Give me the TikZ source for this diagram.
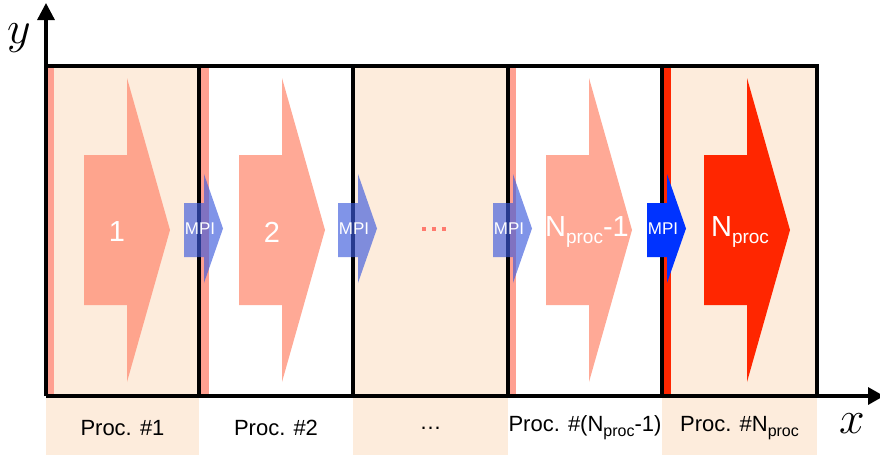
\RequirePackage{fix-cm}
\documentclass[tikz,border=0pt]{standalone}
\usepackage{fontspec}
\setmainfont{Liberation Sans}
\usetikzlibrary{arrows.meta}
\definecolor{peach}{RGB}{253,236,220}
\definecolor{salmon}{RGB}{255,160,145}
\definecolor{arrsal}{RGB}{255,140,115}
\definecolor{hotred}{RGB}{255,38,0}
\definecolor{mpiblue}{RGB}{60,90,220}
\definecolor{solidblue}{RGB}{0,51,255}
\definecolor{dotred}{RGB}{255,122,110}
\newcommand{\lowsub}[2]{\raisebox{-#1}{\fontsize{#2}{#2}\selectfont proc}}
\newcommand{\bigarrow}[2]{%
  \fill[#2] ({84+#1},155) -- ({127+#1},155) -- ({127+#1},78) -- ({170+#1},230)
    -- ({127+#1},382) -- ({127+#1},305) -- ({84+#1},305) -- cycle;}
\newcommand{\mpiarrow}[2]{%
  \fill[#2] ({#1-15},203) -- ({#1+5},203) -- ({#1+5},174) -- ({#1+24},228.5)
    -- ({#1+5},283) -- ({#1+5},257) -- ({#1-15},257) -- cycle;}
\tikzset{
  frame/.style={line width=3.3pt, line cap=rect},
  axis/.style={line width=3.3pt},
  bignum/.style={text=white, font=\fontsize{29}{29}\selectfont, inner sep=0pt},
  mpitxt/.style={text=white, font=\fontsize{17}{17}\selectfont, inner sep=0pt},
  proclbl/.style={text=black, font=\fontsize{22}{22}\selectfont, inner sep=0pt},
  axlbl/.style={font=\fontsize{46}{46}\selectfont, inner sep=0pt},
}
\begin{document}
\begin{tikzpicture}[x=1pt,y=-1pt]
\clip (0,0) rectangle (880,455);
\useasboundingbox (0,0) rectangle (880,455);
% peach columns with label strips
\fill[peach] (46,66) rectangle (199,455);
\fill[peach] (353,66) rectangle (508,455);
\fill[peach] (662,66) rectangle (817,455);
% stripes
\fill[salmon] (47,66) rectangle (54,395);
\fill[salmon] (201,66) rectangle (209,395);
\fill[salmon] (509,66) rectangle (516,395);
\fill[hotred] (663,66) rectangle (671,395);
% big arrows
\bigarrow{0}{arrsal, opacity=0.75}
\bigarrow{155}{arrsal, opacity=0.75}
\bigarrow{462}{arrsal, opacity=0.75}
\bigarrow{620}{hotred}
% dots
\fill[dotred] (422,227) rectangle (426,231);
\fill[dotred] (432,227) rectangle (436,231);
\fill[dotred] (442,227) rectangle (446,231);
% frame
\coordinate (tl) at (46,66);
\coordinate (tr) at (817,66);
\coordinate (br) at (817,396);
\draw[frame] (tl) -- (tr) -- (br);
\foreach \b/\n in {199/a,353/b,508/c,662/d}{
  \coordinate (t\n) at (\b,66);
  \coordinate (u\n) at (\b,396);
  \draw[frame] (t\n) -- (u\n);
}
% axes
\coordinate (O) at (46,396);
\coordinate (xe) at (884,396);
\coordinate (ye) at (46,3);
\draw[axis, -{Triangle[length=16pt,width=17pt]}] (O) -- (xe);
\draw[axis, -{Triangle[length=17pt,width=17pt]}] (O) -- (ye);
\node[axlbl] (ylab) at (19,38) {$y$};
\node[axlbl] (xlab) at (852,424) {$x$};
% MPI arrows
\mpiarrow{199}{mpiblue, opacity=0.65}
\mpiarrow{353}{mpiblue, opacity=0.65}
\mpiarrow{508}{mpiblue, opacity=0.65}
\mpiarrow{662}{solidblue}
\node[mpitxt] (m1) at (200,229) {MPI};
\node[mpitxt] (m2) at (354,229) {MPI};
\node[mpitxt] (m3) at (509,229) {MPI};
\node[mpitxt] (m4) at (663,229) {MPI};
% big arrow labels
\node[bignum] (n1) at (117,232) {1};
\node[bignum] (n2) at (272,232) {2};
\node[bignum] (n4) at (587,232) {N\lowsub{7pt}{19}-1};
\node[bignum] (n5) at (740,232) {N\lowsub{7pt}{19}};
% process labels
\node[proclbl] (p1) at (122.5,428) {Proc. \#1};
\node[proclbl] (p2) at (276,428) {Proc. \#2};
\node[proclbl] (p3) at (430.5,428) {…};
\node[proclbl] (p4) at (585,428) {Proc. \#(N\lowsub{5pt}{16}-1)};
\node[proclbl] (p5) at (739.5,428) {Proc. \#N\lowsub{5pt}{16}};
\end{tikzpicture}
\end{document}
